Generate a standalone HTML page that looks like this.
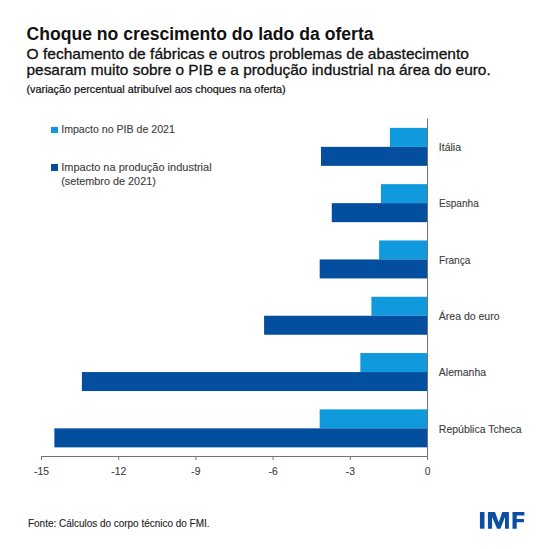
<!DOCTYPE html>
<html><head><meta charset="utf-8"><style>
html,body{margin:0;padding:0;background:#fff;}
body{width:550px;height:549px;position:relative;overflow:hidden;font-family:"Liberation Sans",sans-serif;}
</style></head><body>
<svg style="position:absolute;left:0;top:0" width="550" height="549" viewBox="0 0 550 549"><rect x="389.93" y="127.85" width="37.57" height="19.00" fill="#0f9ade"/><rect x="320.96" y="146.85" width="106.54" height="19.00" fill="#044ea0"/><rect x="380.92" y="184.15" width="46.58" height="19.00" fill="#0f9ade"/><rect x="331.77" y="203.15" width="95.73" height="19.00" fill="#044ea0"/><rect x="379.12" y="240.45" width="48.38" height="19.00" fill="#0f9ade"/><rect x="319.68" y="259.45" width="107.82" height="19.00" fill="#044ea0"/><rect x="371.40" y="296.75" width="56.10" height="19.00" fill="#0f9ade"/><rect x="264.09" y="315.75" width="163.41" height="19.00" fill="#044ea0"/><rect x="360.34" y="353.05" width="67.16" height="19.00" fill="#0f9ade"/><rect x="81.90" y="372.05" width="345.60" height="19.00" fill="#044ea0"/><rect x="319.68" y="409.35" width="107.82" height="19.00" fill="#0f9ade"/><rect x="54.37" y="428.35" width="373.13" height="19.00" fill="#044ea0"/><line x1="427.5" y1="118.7" x2="427.5" y2="459.5" stroke="#737373" stroke-width="1"/><line x1="41" y1="456.5" x2="428.0" y2="456.5" stroke="#737373" stroke-width="1"/><line x1="41.50" y1="456.5" x2="41.50" y2="460.0" stroke="#737373" stroke-width="1"/><line x1="118.70" y1="456.5" x2="118.70" y2="460.0" stroke="#737373" stroke-width="1"/><line x1="195.90" y1="456.5" x2="195.90" y2="460.0" stroke="#737373" stroke-width="1"/><line x1="273.10" y1="456.5" x2="273.10" y2="460.0" stroke="#737373" stroke-width="1"/><line x1="350.30" y1="456.5" x2="350.30" y2="460.0" stroke="#737373" stroke-width="1"/><line x1="427.50" y1="456.5" x2="427.50" y2="460.0" stroke="#737373" stroke-width="1"/></svg>
<div style="position:absolute;left:26.50px;top:25.70px;font-size:17.6px;line-height:17.6px;font-weight:bold;color:#111;white-space:nowrap;-webkit-text-stroke:0.0px #111;">Choque no crescimento do lado da oferta</div>
<div style="position:absolute;left:26.50px;top:45.54px;font-size:15.55px;line-height:15.55px;font-weight:normal;color:#111;white-space:nowrap;-webkit-text-stroke:0.3px #111;">O fechamento de fábricas e outros problemas de abastecimento</div>
<div style="position:absolute;left:26.50px;top:62.25px;font-size:15.42px;line-height:15.42px;font-weight:normal;color:#111;white-space:nowrap;-webkit-text-stroke:0.3px #111;">pesaram muito sobre o PIB e a produção industrial na área do euro.</div>
<div style="position:absolute;left:26.50px;top:84.02px;font-size:10.85px;line-height:10.85px;font-weight:normal;color:#111;white-space:nowrap;-webkit-text-stroke:0.22px #111;">(variação percentual atribuível aos choques na oferta)</div>
<div style="position:absolute;left:51.4px;top:126.7px;width:6.4px;height:6.4px;background:#0f9ade"></div>
<div style="position:absolute;left:61.20px;top:124.03px;font-size:10.6px;line-height:10.6px;font-weight:normal;color:#404040;white-space:nowrap;-webkit-text-stroke:0.12px #404040;">Impacto no PIB de 2021</div>
<div style="position:absolute;left:51.4px;top:164.3px;width:6.4px;height:6.5px;background:#044ea0"></div>
<div style="position:absolute;left:61.20px;top:161.69px;font-size:11.0px;line-height:11.0px;font-weight:normal;color:#404040;white-space:nowrap;-webkit-text-stroke:0.12px #404040;">Impacto na produção industrial</div>
<div style="position:absolute;left:61.20px;top:176.02px;font-size:10.85px;line-height:10.85px;font-weight:normal;color:#404040;white-space:nowrap;-webkit-text-stroke:0.12px #404040;">(setembro de 2021)</div>
<div style="position:absolute;left:438.80px;top:142.01px;font-size:10.5px;line-height:10.5px;font-weight:normal;color:#404040;white-space:nowrap;-webkit-text-stroke:0.12px #404040;">Itália</div>
<div style="position:absolute;left:438.80px;top:198.31px;font-size:10.5px;line-height:10.5px;font-weight:normal;color:#404040;white-space:nowrap;transform:scaleX(0.96);transform-origin:0 0;-webkit-text-stroke:0.12px #404040;">Espanha</div>
<div style="position:absolute;left:438.80px;top:254.61px;font-size:10.5px;line-height:10.5px;font-weight:normal;color:#404040;white-space:nowrap;transform:scaleX(0.96);transform-origin:0 0;-webkit-text-stroke:0.12px #404040;">França</div>
<div style="position:absolute;left:438.80px;top:310.91px;font-size:10.5px;line-height:10.5px;font-weight:normal;color:#404040;white-space:nowrap;-webkit-text-stroke:0.12px #404040;">Área do euro</div>
<div style="position:absolute;left:438.80px;top:367.21px;font-size:10.5px;line-height:10.5px;font-weight:normal;color:#404040;white-space:nowrap;-webkit-text-stroke:0.12px #404040;">Alemanha</div>
<div style="position:absolute;left:438.80px;top:423.51px;font-size:10.5px;line-height:10.5px;font-weight:normal;color:#404040;white-space:nowrap;-webkit-text-stroke:0.12px #404040;">República Tcheca</div>
<div style="position:absolute;left:11.50px;width:60px;text-align:center;top:466.88px;-webkit-text-stroke:0.12px #404040;font-size:10.3px;line-height:10.3px;color:#404040">-15</div>
<div style="position:absolute;left:88.70px;width:60px;text-align:center;top:466.88px;-webkit-text-stroke:0.12px #404040;font-size:10.3px;line-height:10.3px;color:#404040">-12</div>
<div style="position:absolute;left:165.90px;width:60px;text-align:center;top:466.88px;-webkit-text-stroke:0.12px #404040;font-size:10.3px;line-height:10.3px;color:#404040">-9</div>
<div style="position:absolute;left:243.10px;width:60px;text-align:center;top:466.88px;-webkit-text-stroke:0.12px #404040;font-size:10.3px;line-height:10.3px;color:#404040">-6</div>
<div style="position:absolute;left:320.30px;width:60px;text-align:center;top:466.88px;-webkit-text-stroke:0.12px #404040;font-size:10.3px;line-height:10.3px;color:#404040">-3</div>
<div style="position:absolute;left:397.50px;width:60px;text-align:center;top:466.88px;-webkit-text-stroke:0.12px #404040;font-size:10.3px;line-height:10.3px;color:#404040">0</div>
<div style="position:absolute;left:27.50px;top:517.81px;font-size:10.5px;line-height:10.5px;font-weight:normal;color:#222;white-space:nowrap;transform:scaleX(0.948);transform-origin:0 0;-webkit-text-stroke:0.12px #222;">Fonte: Cálculos do corpo técnico do FMI.</div>
<svg style="position:absolute;left:0;top:0" width="550" height="549" viewBox="0 0 550 549"><g fill="#0c4ea2">
<rect x="479.9" y="512.05" width="4.6" height="16.65"/>
<polygon points="487.9,528.7 487.9,512.05 495.0,512.05 498.7,522.3 502.3,512.05 508.9,512.05 508.9,528.7 505.0,528.7 505.0,517.0 500.4,528.7 497.1,528.7 492.1,517.0 492.1,528.7"/>
<polygon points="512.5,528.7 512.5,512.05 524.4,512.05 524.4,515.4 516.7,515.4 516.7,519.1 523.9,519.1 523.9,522.2 516.7,522.2 516.7,528.7"/>
</g></svg></body></html>
